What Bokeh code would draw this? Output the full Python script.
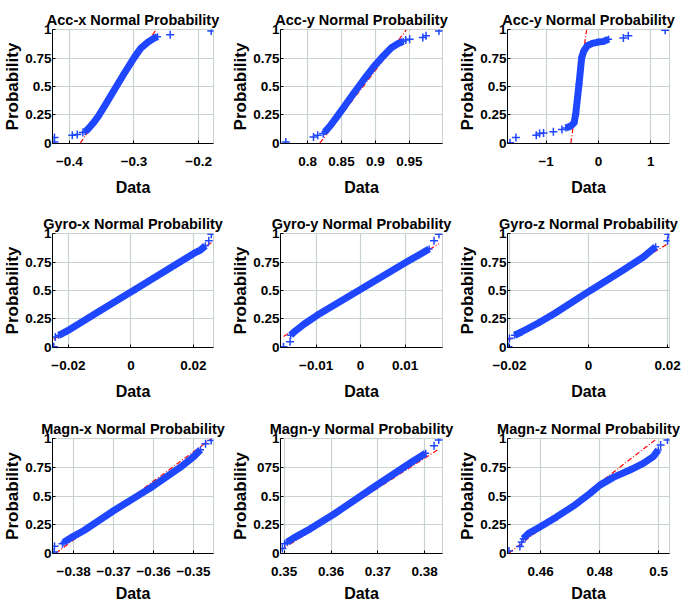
from bokeh.plotting import figure
from bokeh.layouts import gridplot
from bokeh.models import FixedTicker, Range1d
from bokeh.embed import file_html
from bokeh.resources import INLINE

# ---------------- data ----------------
titles = ["Acc-x Normal Probability", "Acc-y Normal Probability", "Acc-y Normal Probability",
          "Gyro-x Normal Probability", "Gyro-y Normal Probability", "Gyro-z Normal Probability",
          "Magn-x Normal Probability", "Magn-y Normal Probability", "Magn-z Normal Probability"]

prob_ticks = [0, 0.25, 0.5, 0.75, 1]

# Acc-x
accx_curve_x = [-0.3754, -0.3703, -0.3636, -0.3559, -0.3457, -0.3303, -0.3149, -0.2995, -0.2892, -0.2789, -0.2688, -0.2636]
accx_curve_p = [0.10, 0.129, 0.173, 0.231, 0.325, 0.471, 0.617, 0.757, 0.839, 0.889, 0.927, 0.94]
accx_out_x = [-0.423, -0.423, -0.3954, -0.3877, -0.379, -0.244, -0.1805]
accx_out_p = [0.01, 0.05, 0.07, 0.076, 0.094, 0.956, 0.99]
accx_ref_x = [-0.383, -0.266]
accx_ref_p = [0.0, 1.0]
accx_ticks = [-0.4, -0.3, -0.2]

# Acc-y
accy_curve_x = [0.8255, 0.8327, 0.8423, 0.8544, 0.8688, 0.8833, 0.8977, 0.9121, 0.9241, 0.9337, 0.941]
accy_curve_p = [0.10, 0.149, 0.225, 0.325, 0.447, 0.564, 0.675, 0.772, 0.845, 0.88, 0.898]
accy_out_x = [0.7678, 0.8087, 0.8149, 0.823, 0.9447, 0.9505, 0.970, 0.9746, 0.9938]
accy_out_p = [0.01, 0.055, 0.07, 0.085, 0.91, 0.916, 0.932, 0.947, 0.99]
accy_ref_x = [0.818, 0.9457]
accy_ref_p = [0.0, 1.0]
accy_ticks = [0.8, 0.85, 0.9, 0.95]

# third panel (titled Acc-y in the reference)
accz_curve_x = [-0.623, -0.528, -0.466, -0.434, -0.371, -0.320, -0.277, -0.213, -0.119, -0.025, 0.10, 0.195]
accz_curve_p = [0.134, 0.152, 0.178, 0.26, 0.523, 0.757, 0.816, 0.86, 0.88, 0.89, 0.898, 0.918]
accz_out_x = [-1.692, -1.579, -1.189, -1.126, -1.05, -0.862, -0.698, 0.478, 0.572, 1.277]
accz_out_p = [0.003, 0.05, 0.07, 0.085, 0.09, 0.10, 0.12, 0.927, 0.947, 0.997]
accz_ref_x = [-0.528, -0.226]
accz_ref_p = [0.0, 1.0]
accz_ticks = [-1, 0, 1]

# Gyro-x
gyrx_curve_x = [-0.0231, -0.0204, -0.00976, 0.0009, 0.0116, 0.0201, 0.0222, 0.0238]
gyrx_curve_p = [0.105, 0.143, 0.324, 0.503, 0.683, 0.827, 0.857, 0.895]
gyrx_out_x = [-0.0247, -0.0242, 0.0249, 0.0257]
gyrx_out_p = [0.003, 0.09, 0.94, 0.997]
gyrx_ref_x = [-0.0247, 0.0257]
gyrx_ref_p = [0.071, 0.921]
gyrx_ticks = [-0.02, 0, 0.02]

# Gyro-y
gyry_curve_x = [-0.01571, -0.01496, -0.01274, -0.00978, -0.00015, 0.01022, 0.01318, 0.0154]
gyry_curve_p = [0.105, 0.134, 0.202, 0.281, 0.506, 0.749, 0.816, 0.866]
gyry_out_x = [-0.01733, -0.01585, 0.0165, 0.0176]
gyry_out_p = [0.003, 0.047, 0.94, 0.997]
gyry_ref_x = [-0.0173, 0.0176]
gyry_ref_p = [0.095, 0.912]
gyry_ticks = [-0.01, 0, 0.01]

# Gyro-z
gyrz_curve_x = [-0.01871, -0.01699, -0.0127, -0.00839, 0.0002, 0.00882, 0.01398, 0.017]
gyrz_curve_p = [0.105, 0.134, 0.213, 0.301, 0.494, 0.681, 0.798, 0.886]
gyrz_out_x = [-0.02026, -0.0200, 0.0200, 0.0202]
gyrz_out_p = [0.003, 0.076, 0.94, 0.997]
gyrz_ref_x = [-0.0203, 0.0202]
gyrz_ref_p = [0.06, 0.915]
gyrz_ticks = [-0.02, 0, 0.02]

# Magn-x
magx_curve_x = [-0.38243, -0.38075, -0.37742, -0.36992, -0.36075, -0.35325, -0.34992, -0.34825]
magx_curve_p = [0.096, 0.134, 0.198, 0.373, 0.571, 0.752, 0.845, 0.904]
magx_out_x = [-0.3849, -0.3848, -0.3828, -0.347, -0.3456]
magx_out_p = [0.01, 0.06, 0.082, 0.956, 0.985]
magx_ref_x = [-0.3845, -0.3456]
magx_ref_p = [0.0, 1.0]
magx_ticks = [-0.38, -0.37, -0.36, -0.35]

# Magn-y
magy_curve_x = [0.35063, 0.35205, 0.35556, 0.36049, 0.36965, 0.3774, 0.38021]
magy_curve_p = [0.096, 0.134, 0.213, 0.338, 0.592, 0.802, 0.874]
magy_out_x = [0.3496, 0.3501, 0.382, 0.383]
magy_out_p = [0.04, 0.082, 0.94, 0.99]
magy_ref_x = [0.3494, 0.383]
magy_ref_p = [0.03, 0.91]
magy_ticks = [0.35, 0.36, 0.37, 0.38]
magy_prob_labels = {0: "0", 0.25: "0.25", 0.5: "0.5", 0.75: "075", 1: "1"}

# Magn-z
magz_curve_x = [0.45413, 0.45583, 0.45977, 0.46542, 0.47108, 0.47672, 0.48011, 0.48464, 0.49028, 0.49481, 0.4982, 0.4999]
magz_curve_p = [0.127, 0.171, 0.229, 0.317, 0.411, 0.522, 0.595, 0.663, 0.727, 0.786, 0.844, 0.903]
magz_out_x = [0.4493, 0.453, 0.4536, 0.5007, 0.503]
magz_out_p = [0.018, 0.059, 0.097, 0.947, 0.99]
magz_ref_x = [0.4493, 0.4993]
magz_ref_p = [0.0, 1.0]
magz_ticks = [0.46, 0.48, 0.5]

# ---------------- layout / style ----------------
panels = [
    (accx_curve_x, accx_curve_p, accx_out_x, accx_out_p, accx_ref_x, accx_ref_p, accx_ticks, (-0.426, -0.177), None),
    (accy_curve_x, accy_curve_p, accy_out_x, accy_out_p, accy_ref_x, accy_ref_p, accy_ticks, (0.76, 0.999), None),
    (accz_curve_x, accz_curve_p, accz_out_x, accz_out_p, accz_ref_x, accz_ref_p, accz_ticks, (-1.74, 1.36), None),
    (gyrx_curve_x, gyrx_curve_p, gyrx_out_x, gyrx_out_p, gyrx_ref_x, gyrx_ref_p, gyrx_ticks, (-0.0251, 0.0264), None),
    (gyry_curve_x, gyry_curve_p, gyry_out_x, gyry_out_p, gyry_ref_x, gyry_ref_p, gyry_ticks, (-0.018, 0.0184), None),
    (gyrz_curve_x, gyrz_curve_p, gyrz_out_x, gyrz_out_p, gyrz_ref_x, gyrz_ref_p, gyrz_ticks, (-0.0205, 0.0205), None),
    (magx_curve_x, magx_curve_p, magx_out_x, magx_out_p, magx_ref_x, magx_ref_p, magx_ticks, (-0.3853, -0.345), None),
    (magy_curve_x, magy_curve_p, magy_out_x, magy_out_p, magy_ref_x, magy_ref_p, magy_ticks, (0.3492, 0.3838), magy_prob_labels),
    (magz_curve_x, magz_curve_p, magz_out_x, magz_out_p, magz_ref_x, magz_ref_p, magz_ticks, (0.4488, 0.5037), None),
]

col_w = [228, 227, 230]
col_left = [51, 48, 50]
col_right = [15, 13, 16]
row_h = [205, 205, 200]
row_top = [29, 28, 28]
row_bottom = [62, 63, 57]
row_label_standoff = [10, 10, 6]

FONT = "'Liberation Sans', Arial, sans-serif"
BLUE = "#1f47ff"
GRID = "#c9d3ce"

figs = []
for i, (cx, cp, ox, op, rx, rp, xt, xr, plabels) in enumerate(panels):
    r, c = divmod(i, 3)
    p = figure(width=col_w[c], height=row_h[r], output_backend="svg", toolbar_location=None,
               x_range=Range1d(*xr), y_range=Range1d(-0.003, 1.003),
               min_border_left=col_left[c], min_border_right=col_right[c],
               min_border_top=row_top[r], min_border_bottom=row_bottom[r],
               title=titles[i])
    p.title.text_font = FONT
    p.title.text_font_size = "14.5px"
    p.title.text_font_style = "bold"
    p.title.align = "center"
    p.title.standoff = 4
    p.title.text_color = "black"

    p.line(rx, rp, line_color="red", line_width=1.2, line_dash="5 2 1 2")
    p.line(cx, cp, line_color=BLUE, line_width=7)
    p.scatter(cx, cp, marker="cross", size=7, line_color=BLUE, line_width=1.5)
    p.scatter(ox, op, marker="cross", size=8, line_color=BLUE, line_width=1.5)

    p.xaxis.ticker = FixedTicker(ticks=xt)
    p.yaxis.ticker = FixedTicker(ticks=prob_ticks)
    if plabels:
        p.yaxis.major_label_overrides = plabels
    p.xaxis.axis_label = "Data"
    p.yaxis.axis_label = "Probability"
    for ax in (p.xaxis, p.yaxis):
        ax.axis_label_text_font = FONT
        ax.axis_label_text_font_style = "bold"
        ax.major_label_text_font = FONT
        ax.major_label_text_font_size = "13.5px"
        ax.major_label_text_font_style = "bold"
        ax.major_label_text_color = "black"
        ax.axis_label_text_color = "black"
        ax.axis_line_color = "black"
        ax.axis_line_width = 1
        ax.major_tick_in = 3
        ax.major_tick_out = 0
        ax.major_tick_line_color = "black"
        ax.minor_tick_line_color = None
    p.xaxis.axis_label_text_font_size = "16px"
    p.xaxis.major_label_standoff = 13
    p.xaxis.axis_label_standoff = row_label_standoff[r]
    p.yaxis.axis_label_text_font_size = "17px"
    p.yaxis.major_label_standoff = 1
    p.yaxis.axis_label_standoff = 0
    p.grid.grid_line_color = GRID
    p.grid.grid_line_width = 1.2
    p.outline_line_color = GRID
    p.background_fill_color = "white"
    p.border_fill_color = "white"
    figs.append(p)

grid = gridplot([figs[0:3], figs[3:6], figs[6:9]], toolbar_location=None)

open("out.html", "w").write(file_html(grid, INLINE))
